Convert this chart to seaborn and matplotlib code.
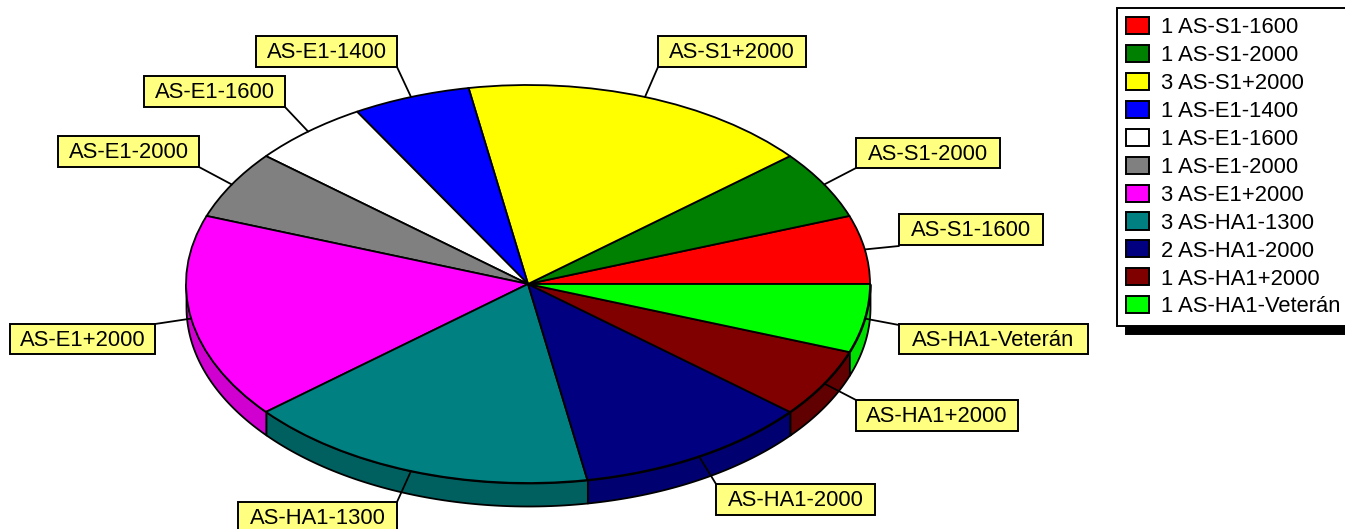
import numpy as np
import matplotlib
matplotlib.use("Agg")
import matplotlib.pyplot as plt
from matplotlib.patches import Rectangle
import seaborn as sns

names = ["AS-S1-1600", "AS-S1-2000", "AS-S1+2000", "AS-E1-1400", "AS-E1-1600", "AS-E1-2000",
         "AS-E1+2000", "AS-HA1-1300", "AS-HA1-2000", "AS-HA1+2000", "AS-HA1-Veterán"]
counts = [1, 1, 3, 1, 1, 1, 3, 3, 2, 1, 1]
top_colors = ["#ff0000", "#008000", "#ffff00", "#0000ff", "#ffffff", "#808080",
              "#ff00ff", "#008080", "#000080", "#800000", "#00ff00"]
side_colors = ["#d00000", "#006000", "#d0d000", "#0000d0", "#d0d0d0", "#606060",
               "#d000d0", "#006060", "#000070", "#600000", "#00e000"]

# label boxes in image pixels: left, right, top, bottom, then where the leader meets the box
label_boxes = [
    (899, 1043, 214, 245, 899, 246),
    (856, 1000, 138, 168, 856, 168),
    (658, 806, 36, 67, 658, 67),
    (256, 397, 36, 67, 397, 67),
    (144, 285, 76, 107, 285, 107),
    (58, 199, 136, 167, 199, 167),
    (10, 155, 324, 354, 155, 324),
    (238, 397, 502, 534, 397, 502),
    (716, 875, 484, 515, 716, 484),
    (856, 1018, 400, 431, 856, 400),
    (899, 1088, 324, 354, 899, 325),
]

W, H = 1345, 529
CX, CY = 528, 284
RX, RY = 342, 199
DEPTH = 23 / RY

sns.set_theme(style="white")
plt.rcParams["font.family"] = ["Liberation Sans", "DejaVu Sans"]


def fig_xy(x, y):
    return x / W, 1 - y / H


def draw_side(ax, start, end, color):
    # only the front half of the pie shows its rim
    lo, hi = max(start, 180), min(end, 360)
    if hi <= lo:
        return
    theta = np.radians(np.linspace(lo, hi, 60))
    x = np.cos(theta)
    y = np.sin(theta)
    ax.fill_between(x, y, y - DEPTH, facecolor=color, edgecolor="black", linewidth=1.3, zorder=1)


def main():
    fig = plt.figure(figsize=(W / 100, H / 100), dpi=100)
    ax = fig.add_axes([0, 0, 1, 1])

    edges = np.concatenate([[0], np.cumsum(counts)]) / sum(counts) * 360

    for i in range(len(counts)):
        draw_side(ax, edges[i], edges[i + 1], side_colors[i])

    wedges, _ = ax.pie(counts, colors=sns.color_palette(top_colors), startangle=0,
                       wedgeprops=dict(edgecolor="black", linewidth=1.3, zorder=2))
    ax.set_aspect("auto")
    ax.set_xlim(-CX / RX, (W - CX) / RX)
    ax.set_ylim(-(H - CY) / RY, CY / RY)
    ax.axis("off")

    for i, name in enumerate(names):
        left, right, top, bottom, lx, ly = label_boxes[i]
        mid = np.radians((edges[i] + edges[i + 1]) / 2)
        ax.annotate("", xy=(np.cos(mid), np.sin(mid)), xycoords="data",
                    xytext=fig_xy(lx, ly), textcoords="figure fraction",
                    arrowprops=dict(arrowstyle="-", color="black", linewidth=1.3,
                                    shrinkA=0, shrinkB=0), zorder=3)
        x0, y0 = fig_xy(left, bottom)
        fig.add_artist(Rectangle((x0, y0), (right - left) / W, (bottom - top) / H,
                                 transform=fig.transFigure, facecolor="#ffff80",
                                 edgecolor="black", linewidth=1.4, zorder=4))
        tx, ty = fig_xy((left + right) / 2, (top + min(bottom, top + 31)) / 2 - 1)
        fig.text(tx, ty, name, ha="center", va="center_baseline", fontsize=15.8, color="black", zorder=5)

    labels = [f"{c} {n}" for c, n in zip(counts, names)]
    legend = fig.legend(wedges, labels, loc="upper left", bbox_to_anchor=fig_xy(1117, 8),
                        bbox_transform=fig.transFigure, fontsize=15.8, frameon=True, fancybox=False,
                        edgecolor="black", facecolor="white", framealpha=1, borderaxespad=0,
                        borderpad=0.4, labelspacing=0.31, handlelength=1.05, handleheight=0.82,
                        handletextpad=0.55, labelcolor="black",
                        shadow=dict(color="black", alpha=1, ox=6.5, oy=-5.8))
    legend.get_frame().set_linewidth(1.4)
    for handle in legend.legend_handles:
        handle.set_linewidth(1.4)

    plt.savefig("out.png", dpi=100)


if __name__ == "__main__":
    main()
